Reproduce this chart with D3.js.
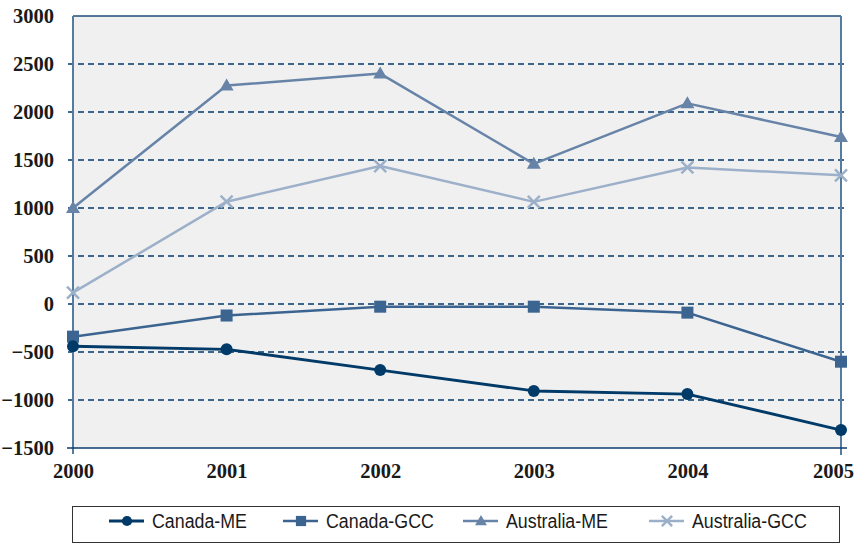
<!DOCTYPE html>
<html><head><meta charset="utf-8">
<script src="https://cdn.jsdelivr.net/npm/d3@7"></script>
<style>body{margin:0;background:#fff}svg{display:block}</style>
</head><body><svg id="c" width="867" height="544"></svg>
<script>
const years = [2000, 2001, 2002, 2003, 2004, 2005];
const canadaME = [-440, -472, -688, -906, -938, -1313];
const canadaGCC = [-340, -120, -28, -28, -90, -601];
const australiaME = [1000, 2275, 2400, 1460, 2090, 1740];
const australiaGCC = [118, 1066, 1437, 1064, 1422, 1340];
const yTicks = [-1500, -1000, -500, 0, 500, 1000, 1500, 2000, 2500, 3000];
const seriesNames = ["Canada-ME", "Canada-GCC", "Australia-ME", "Australia-GCC"];

const series = [
  {name: seriesNames[0], values: canadaME, color: "#003a68", marker: "circle", w: 2.8},
  {name: seriesNames[1], values: canadaGCC, color: "#3b6590", marker: "square", w: 2.5},
  {name: seriesNames[2], values: australiaME, color: "#6784a8", marker: "triangle", w: 2.5},
  {name: seriesNames[3], values: australiaGCC, color: "#9db0c9", marker: "x", w: 2.5}
];

const svg = d3.select("#c");
const L = 73, R = 841, T = 16, B = 448;
const x = d3.scaleLinear().domain([2000, 2005]).range([L, R]);
const y = d3.scaleLinear().domain([-1500, 3000]).range([B, T]);

svg.append("rect").attr("x", L).attr("y", T).attr("width", R - L).attr("height", B - T).attr("fill", "#f0f0f0");

// gridlines
svg.append("g").selectAll("line").data(yTicks.filter(d => d !== 3000 && d !== -1500)).join("line")
  .attr("x1", 67).attr("x2", 847).attr("y1", d => y(d)).attr("y2", d => y(d))
  .attr("stroke", "#003a6a").attr("stroke-width", 1.3).attr("stroke-dasharray", "6,4").attr("stroke-dashoffset", -1);

svg.append("line").attr("x1", L).attr("x2", R).attr("y1", T).attr("y2", T).attr("stroke", "#1f4d78").attr("stroke-width", 1.5);
svg.append("line").attr("x1", R).attr("x2", R).attr("y1", T).attr("y2", 455).attr("stroke", "#557b9e").attr("stroke-width", 2);
svg.append("line").attr("x1", L).attr("x2", L).attr("y1", T).attr("y2", 454).attr("stroke", "#557b9e").attr("stroke-width", 2);
svg.append("line").attr("x1", 67).attr("x2", 847).attr("y1", B).attr("y2", B).attr("stroke", "#0b3d6b").attr("stroke-width", 1.5);

const yAxis = d3.axisLeft(y).tickValues(yTicks).tickSize(0).tickPadding(0).tickFormat(d3.format("d"));
const ya = svg.append("g").attr("transform", "translate(54,0)").call(yAxis);
ya.select(".domain").remove();
ya.selectAll("text").attr("font-family", "'Liberation Serif','Times New Roman',serif").attr("font-weight", "bold")
  .attr("font-size", 20.5).attr("fill", "#1a1a1a").attr("dy", "0.34em");

const xAxis = d3.axisBottom(x).tickValues(years).tickSize(0).tickPadding(0).tickFormat(d3.format("d"));
const xa = svg.append("g").attr("transform", "translate(0,478)").call(xAxis);
xa.select(".domain").remove();
xa.selectAll("text").attr("font-family", "'Liberation Serif','Times New Roman',serif").attr("font-weight", "bold")
  .attr("font-size", 20.5).attr("fill", "#1a1a1a").attr("dy", 0)
  .attr("dx", d => d === 2005 ? -8 : 0);

const line = d3.line().x((d, i) => x(years[i])).y(d => y(d));

function drawMarker(g, type, cx, cy, color, s) {
  if (type === "circle") g.append("circle").attr("cx", cx).attr("cy", cy).attr("r", 6 * s).attr("fill", color);
  else if (type === "square") g.append("rect").attr("x", cx - 6 * s).attr("y", cy - 6 * s).attr("width", 12 * s).attr("height", 12 * s).attr("fill", color);
  else if (type === "triangle") g.append("path").attr("d", `M${cx},${cy - 7 * s}L${cx + 7 * s},${cy + 5 * s}L${cx - 7 * s},${cy + 5 * s}Z`).attr("fill", color);
  else g.append("path").attr("d", `M${cx - 6 * s},${cy - 6 * s}L${cx + 6 * s},${cy + 6 * s}M${cx + 6 * s},${cy - 6 * s}L${cx - 6 * s},${cy + 6 * s}`).attr("stroke", color).attr("stroke-width", 2.5);
}

const gS = svg.append("g");
series.slice().reverse().forEach(s => {
  const g = gS.append("g");
  g.append("path").attr("d", line(s.values)).attr("fill", "none").attr("stroke", s.color).attr("stroke-width", s.w).attr("stroke-linejoin", "round");
  s.values.forEach((v, i) => drawMarker(g, s.marker, x(years[i]), y(v), s.color, 1));
});

// legend
svg.append("rect").attr("x", 72.5).attr("y", 506.5).attr("width", 767).attr("height", 36).attr("fill", "#fff").attr("stroke", "#333").attr("stroke-width", 1);
const legX = [109, 283, 463, 649];
series.forEach((s, i) => {
  const g = svg.append("g");
  const lx = legX[i], ly = 521;
  g.append("line").attr("x1", lx).attr("x2", lx + 35).attr("y1", ly).attr("y2", ly).attr("stroke", s.color).attr("stroke-width", s.w);
  drawMarker(g, s.marker, lx + 18, ly, s.color, 0.85);
  const t = g.append("text").attr("x", lx + 43).attr("y", ly).attr("dy", "0.35em").text(s.name)
    .attr("font-family", "'Liberation Sans',Arial,sans-serif")
    .attr("font-size", 20).attr("fill", "#1a1a1a");
  const w = t.node().getComputedTextLength();
  t.attr("textLength", w * 0.89).attr("lengthAdjust", "spacingAndGlyphs");
});
</script></body></html>
